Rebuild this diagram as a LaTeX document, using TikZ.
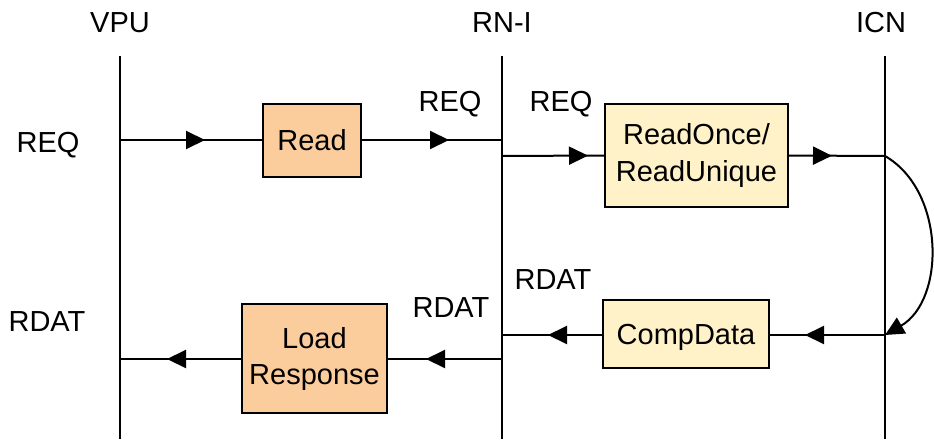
\documentclass[tikz,border=0pt]{standalone}
\usepackage{fontspec}
\setmainfont{Liberation Sans}
\usepackage{tikz}
\usetikzlibrary{arrows.meta,decorations.markings}
\definecolor{peach}{HTML}{FCCD9C}
\definecolor{cream}{HTML}{FFF2C9}
\tikzset{
  life/.style={draw=black, line width=2pt},
  msg/.style={draw=black, line width=2pt},
  tipat/.style={postaction=decorate, decoration={markings,
      mark=at position #1 with {\arrow{Triangle[length=19pt,width=18pt]}}}},
  box/.style={draw=black, line width=2pt, align=center, inner sep=0pt,
      font=\fontsize{29}{36}\selectfont},
  lab/.style={font=\fontsize{29}{34}\selectfont, inner sep=0pt}
}

\begin{document}
\begin{tikzpicture}[x=1pt,y=-1pt]
  \useasboundingbox (0,0) rectangle (934,439);

  % lifelines
  \node[lab] (lVPU) at (120,23) {VPU};
  \node[lab] (lRNI) at (502,23) {RN-I};
  \node[lab] (lICN) at (881,23) {ICN};
  \draw[life] (120,56) -- (120,439);
  \draw[life] (502,56) -- (502,439);
  \draw[life] (885,56) -- (885,439);

  \coordinate (V1) at (120,140);
  \coordinate (R1) at (502,140);
  \coordinate (R2) at (502,156);
  \coordinate (C1) at (885,156);
  \coordinate (C2) at (885,335);
  \coordinate (R3) at (502,335);
  \coordinate (R4) at (502,359);
  \coordinate (V2) at (120,359);

  \node[box, fill=peach, minimum width=98pt, minimum height=73pt] (read) at (312,140) {Read};
  \node[box, fill=cream, minimum width=183pt, minimum height=103pt] (once) at (696.5,155.5) {ReadOnce/\\ReadUnique};
  \node[box, fill=cream, minimum width=166pt, minimum height=68pt, text depth=0pt] (comp) at (686,334) {CompData};
  \node[box, fill=peach, minimum width=145pt, minimum height=109pt] (load) at (314.5,358.5) {Load\\Response};

  % requests
  \draw[msg, tipat=85pt] (V1) -- (read);
  \draw[msg, tipat=87pt] (read) -- (R1);
  \draw[msg, tipat=86pt] (R2) -- (once.west);
  \draw[msg, tipat=43pt] (once.east) -- (C1);
  \draw[msg, -{Triangle[length=19pt,width=18pt]}] (C1) to[bend left=60] (C2);

  % responses
  \draw[msg, tipat=80pt] (C2) -- (comp.east |- C2);
  \draw[msg, tipat=54pt] (comp.west |- R3) -- (R3);
  \draw[msg, tipat=76pt] (R4) -- (load.east |- R4);
  \draw[msg, tipat=74pt] (load.west |- V2) -- (V2);

  \node[lab] (reqA) at (48,145) {REQ};
  \node[lab] (reqB) at (450,104) {REQ};
  \node[lab] (reqC) at (561,104) {REQ};
  \node[lab] (rdatA) at (47,322) {RDAT};
  \node[lab] (rdatB) at (451,308) {RDAT};
  \node[lab] (rdatC) at (553,280) {RDAT};
\end{tikzpicture}
\end{document}
